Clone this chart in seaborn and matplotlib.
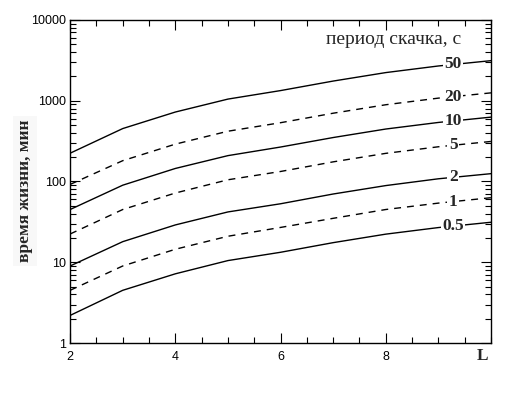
import numpy as np
import pandas as pd
import seaborn as sns
import matplotlib
matplotlib.use("Agg")
import matplotlib.pyplot as plt
from matplotlib.ticker import FixedLocator, LogLocator, NullFormatter, FuncFormatter, MultipleLocator

# ---- data ----
L_values = [2, 3, 4, 5, 6, 7, 8, 9, 10]
periods = ["50", "20", "10", "5", "2", "1", "0.5"]
life_50 = [224, 452, 724, 1047, 1334, 1750, 2228, 2690, 3130]
life_20 = [92, 181, 290, 419, 534, 700, 891, 1076, 1250]
life_10 = [45, 90, 145, 209, 267, 350, 446, 538, 626]
life_5 = [22.4, 45, 72, 105, 133, 175, 223, 269, 313]
life_2 = [9.0, 18, 29, 42, 53, 70, 89, 108, 125]
life_1 = [4.5, 9.0, 14.5, 21, 27, 35, 45, 54, 63]
life_05 = [2.2, 4.5, 7.2, 10.5, 13.3, 17.5, 22.3, 26.9, 31.3]
series = [life_50, life_20, life_10, life_5, life_2, life_1, life_05]
dashed = [False, True, False, True, False, True, False]
y_tick_values = [1, 10, 100, 1000, 10000]
x_tick_values = [2, 4, 6, 8]

sns.set_theme(style="ticks")
plt.rcParams["font.family"] = ["Liberation Sans", "DejaVu Sans"]

fig = plt.figure(figsize=(5.12, 3.98), dpi=100)
ax = fig.add_axes([0.137, 0.138, 0.822, 0.812])

label_x = 9.28
for name, vals, d in zip(periods, series, dashed):
    sns.lineplot(x=L_values, y=vals, ax=ax, color="black", linewidth=1.0,
                 linestyle=(0, (5, 4.3)) if d else "-", legend=False)
    ly = 10 ** np.interp(label_x, L_values, np.log10(vals))
    ax.text(label_x, ly, name, ha="center", va="center", fontsize=12.5,
            fontweight="bold", family=["Liberation Serif", "DejaVu Serif"],
            bbox=dict(facecolor="white", edgecolor="none", pad=1.0))

ax.set_yscale("log")
ax.set_xlim(2, 10)
ax.set_ylim(1, 10000)
ax.yaxis.set_major_locator(FixedLocator(y_tick_values))
ax.yaxis.set_major_formatter(FuncFormatter(lambda v, p: f"{int(v)}"))
ax.yaxis.set_minor_locator(LogLocator(base=10, subs=np.arange(2, 10)))
ax.yaxis.set_minor_formatter(NullFormatter())
ax.xaxis.set_major_locator(FixedLocator(x_tick_values))
ax.xaxis.set_minor_locator(MultipleLocator(0.5))

ax.tick_params(which="both", direction="in", top=True, right=True, width=0.8,
               colors="black", labelsize=9)
ax.tick_params(which="major", length=7)
ax.tick_params(which="minor", length=4)
ax.tick_params(axis="x", pad=6)
ax.tick_params(axis="y", pad=3)
for s in ax.spines.values():
    s.set_linewidth(1.0)
    s.set_color("black")

ax.set_xlabel("")
ax.set_ylabel("")
fig.text(0.049, 0.52, "время жизни, мин", rotation=90, ha="center", va="center",
         fontsize=12.5, fontweight="bold", family=["Liberation Serif", "DejaVu Serif"],
         bbox=dict(facecolor="#f8f8f8", edgecolor="none", pad=3))
fig.text(0.943, 0.105, "L", ha="center", va="center", fontsize=12.5, fontweight="bold",
         family=["Liberation Serif", "DejaVu Serif"])
fig.text(0.768, 0.90, "период скачка, с", ha="center", va="center", fontsize=14,
         family=["Liberation Serif", "DejaVu Serif"])

fig.savefig("out.png", dpi=100, facecolor="white")
